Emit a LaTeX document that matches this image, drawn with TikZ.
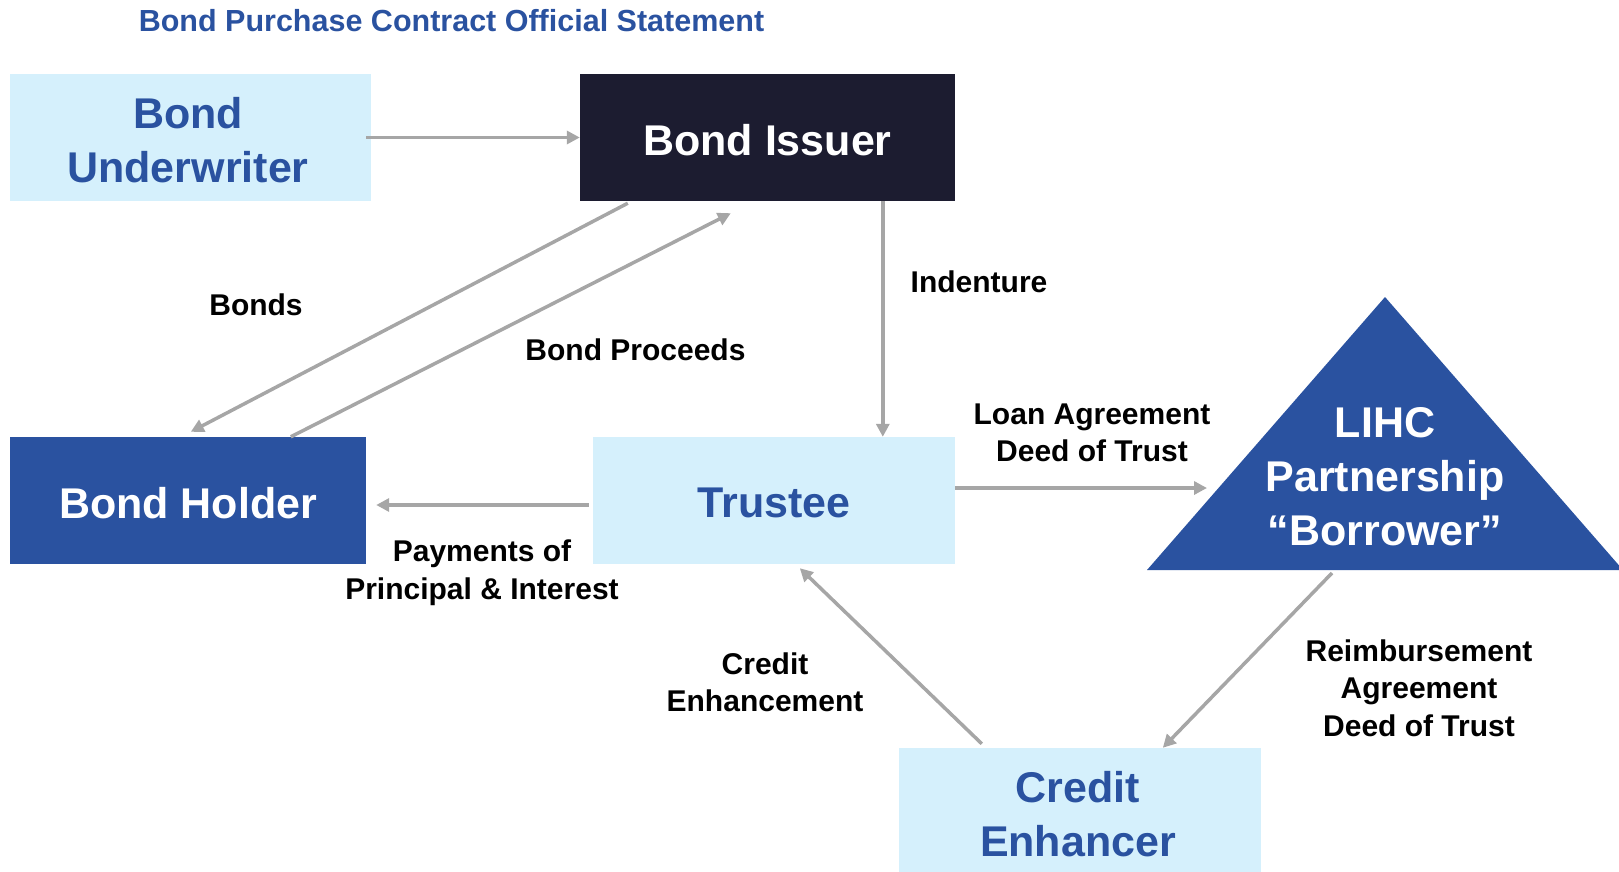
\documentclass[tikz,border=0pt]{standalone}
\usepackage{fontspec}
\setmainfont{Liberation Sans}
\usetikzlibrary{arrows.meta}
\definecolor{paleblue}{RGB}{213,240,252}
\definecolor{deepblue}{RGB}{42,82,160}
\definecolor{navyblack}{RGB}{28,28,48}
\definecolor{flowgray}{RGB}{166,166,166}
\tikzset{
  entity/.style={rectangle, inner sep=0pt, align=center,
    font=\bfseries\fontsize{43}{54}\selectfont},
  flow/.style={draw=flowgray, line width=3.5pt,
    -{Triangle[length=13pt,width=13pt]}},
  lbl/.style={align=center, inner sep=0pt,
    font=\bfseries\fontsize{30}{37.5}\selectfont},
}
\begin{document}
\begin{tikzpicture}[x=1pt,y=-1pt]
                \useasboundingbox (0,0) rectangle (1619,872);
                
                % Drawing title
                \node (title) [lbl, text=deepblue, font=\bfseries\fontsize{30.5}{36}\selectfont] at (451.5,21) {Bond Purchase Contract Official Statement};%
                
                % Drawing box Underwriter
                \node (underwriter) [entity, fill=paleblue, text=deepblue, minimum width=361pt, minimum height=127pt] at (190.5,137.5) {};%
                \node (underwriter-txt) [entity, text=deepblue] at (188,140.5) {Bond\\Underwriter};%
                
                % Drawing box Issuer
                \node (issuer) [entity, fill=navyblack, text=white, minimum width=375pt, minimum height=127pt] at (767.5,137.5) {};%
                \node (issuer-txt) [entity, text=white] at (767.5,140) {Bond Issuer};%
                
                % Drawing box Holder
                \node (holder) [entity, fill=deepblue, text=white, minimum width=356pt, minimum height=127pt] at (188,500.5) {};%
                \node (holder-txt) [entity, text=white] at (188,503) {Bond Holder};%
                
                % Drawing box Trustee
                \node (trustee) [entity, fill=paleblue, text=deepblue, minimum width=362pt, minimum height=127pt] at (774,500.5) {};%
                \node (trustee-txt) [entity, text=deepblue] at (774,503) {Trustee};%
                
                % Drawing box Enhancer
                \node (enhancer) [entity, fill=paleblue, text=deepblue, minimum width=362pt, minimum height=124pt] at (1080,810) {};%
                \node (enhancer-txt) [entity, text=deepblue] at (1078,814) {Credit\\Enhancer};%
                
                % Drawing triangle Borrower
                \coordinate (tri-left) at (1147,570);%
                \coordinate (tri-top) at (1385,297);%
                \coordinate (tri-right) at (1623,570);%
                \fill [deepblue] (tri-left) -- (tri-top) -- (tri-right) -- cycle;%
                \node (borrower) [entity, text=white] at (1385,477) {LIHC\\Partnership\\“Borrower”};%
                \coordinate (loan-end) at (1207,488);%
                \coordinate (reimb-start) at (1332,573);%
                
                % Drawing arrow Underwriter Issuer
                \draw [flow] ([xshift=-5pt]underwriter.east) -- (issuer.west);%
                
                % Drawing arrows Issuer Holder
                \draw [flow] ([xshift=48pt,yshift=-2pt]issuer.south west) -- ([xshift=181pt,yshift=5pt]holder.north west);%
                \draw [flow] ([xshift=281pt]holder.north west) -- ([xshift=151pt,yshift=-12pt]issuer.south west);%
                
                % Drawing arrow Issuer Trustee
                \draw [flow] ([xshift=303pt]issuer.south west) -- ([xshift=290pt]trustee.north west);%
                
                % Drawing arrow Trustee Holder
                \draw [flow] ([xshift=-4pt,yshift=-4.5pt]trustee.west) -- ([xshift=10pt,yshift=-4.5pt]holder.east);%
                
                % Drawing arrow Trustee Borrower
                \draw [flow] ([yshift=12.5pt]trustee.east) -- (loan-end);%
                
                % Drawing arrow Enhancer Trustee
                \draw [flow] ([xshift=83pt,yshift=4pt]enhancer.north west) -- ([xshift=207pt,yshift=-4pt]trustee.south west);%
                
                % Drawing arrow Borrower Enhancer
                \draw [flow] (reimb-start) -- ([xshift=264pt]enhancer.north west);%
                
                % Marking labels
                \node (bonds-lbl) [lbl] at (256,305) {Bonds};%
                \node (proceeds-lbl) [lbl] at (635.5,350) {Bond Proceeds};%
                \node (indenture-lbl) [lbl] at (979,282) {Indenture};%
                \node (loan-lbl) [lbl] at (1092,433) {Loan Agreement\\Deed of Trust};%
                \node (payments-lbl) [lbl] at (482,572.5) {Payments of\\Principal \& Interest};%
                \node (enhancement-lbl) [lbl] at (765,682.5) {Credit\\Enhancement};%
                \node (reimb-lbl) [lbl] at (1419,688) {Reimbursement\\Agreement\\Deed of Trust};%
\end{tikzpicture}
\end{document}
